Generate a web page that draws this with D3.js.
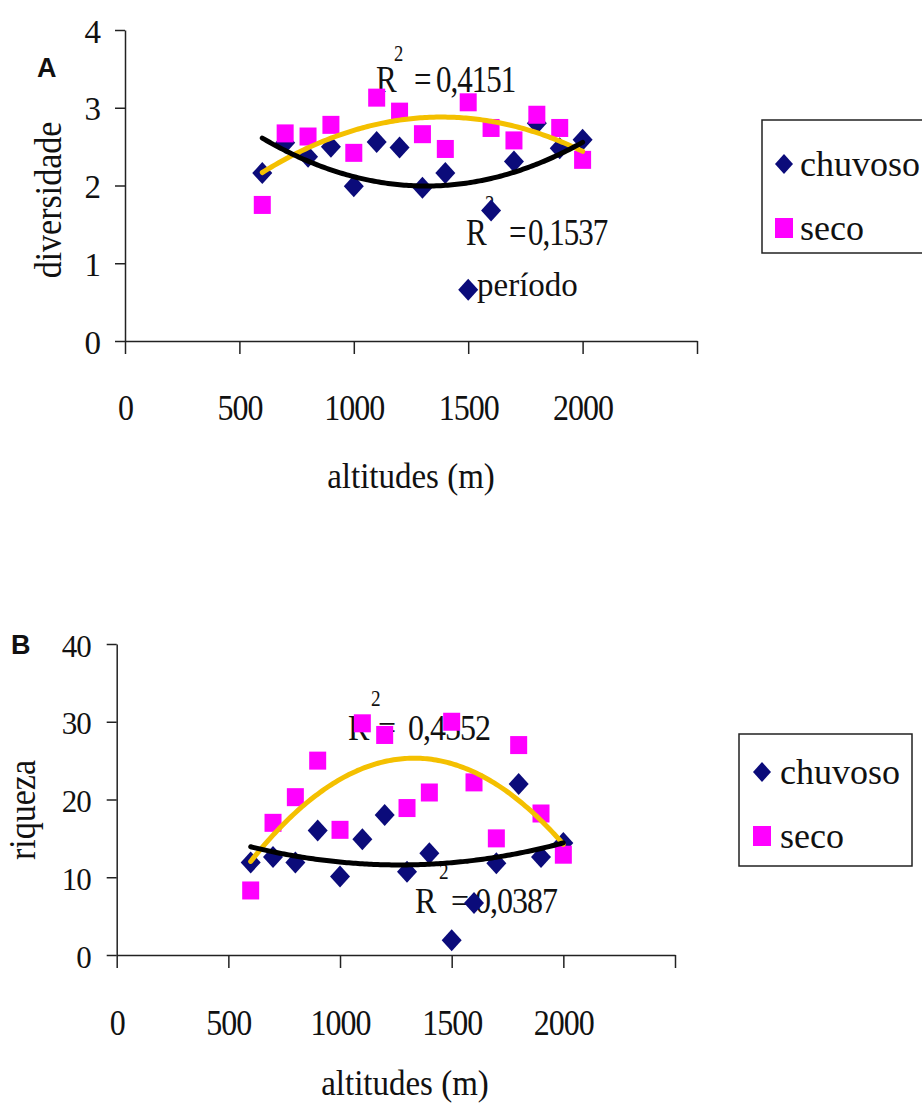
<!DOCTYPE html>
<html>
<head>
<meta charset="utf-8">
<script src="https://cdn.jsdelivr.net/npm/d3@7"></script>
<style>
body { margin: 0; background: #fff; }
svg text { font-family: "Liberation Serif", "Times New Roman", serif; fill: #111; }
.panel-letter { font-family: "Liberation Sans", Arial, sans-serif; font-weight: bold; }
</style>
</head>
<body>
<script>
//altitudes sampled (m)
var altitudes = [600, 700, 800, 900, 1000, 1100, 1200, 1300, 1400, 1500, 1600, 1700, 1800, 1900, 2000];

//A - diversidade
var divChuvoso = [2.16, 2.55, 2.37, 2.50, 1.99, 2.56, 2.49, 1.97, 2.16, 0.66, 1.68, 2.31, 2.80, 2.48, 2.59];
var divSeco    = [1.75, 2.67, 2.63, 2.78, 2.42, 3.13, 2.95, 2.66, 2.47, 3.07, 2.74, 2.58, 2.91, 2.74, 2.33];

//B - riqueza
var riqChuvoso = [11.9, 12.6, 11.9, 16.0, 10.1, 14.9, 18.0, 10.7, 13.1, 1.9, 6.7, 11.8, 22.0, 12.6, 14.4];
var riqSeco    = [8.3, 17.0, 20.3, 25.0, 16.1, 29.8, 28.3, 18.9, 20.9, 30.0, 22.2, 15.0, 27.0, 18.2, 12.9];

//ticks and labels
var xTicks = [0, 500, 1000, 1500, 2000, 2500];
var divTicks = [0, 1, 2, 3, 4];
var riqTicks = [0, 10, 20, 30, 40];
var seriesNames = ["chuvoso", "seco"];
var r2Div = ["0,4151", "0,1537"];   //seco, chuvoso
var r2Riq = ["0,4552", "0,0387"];

var width = 922, height = 1109;
var navy = "#0b0b7a", magenta = "#ff00ff", gold = "#f4c000";

var svg = d3.select("body").append("svg")
    .attr("width", width)
    .attr("height", height);

//least squares polynomial (order 2) trend, like the spreadsheet trendline
function quadFit(xs, ys){
    var m = d3.mean(xs), s = 1000;
    var S = [0, 0, 0, 0, 0], T = [0, 0, 0];
    xs.forEach(function(x, i){
        var t = (x - m) / s;
        for (var k = 0; k < 5; k++) S[k] += Math.pow(t, k);
        for (var k = 0; k < 3; k++) T[k] += Math.pow(t, k) * ys[i];
    });
    function det(a){
        return a[0][0]*(a[1][1]*a[2][2]-a[1][2]*a[2][1])
             - a[0][1]*(a[1][0]*a[2][2]-a[1][2]*a[2][0])
             + a[0][2]*(a[1][0]*a[2][1]-a[1][1]*a[2][0]);
    }
    var M = [[S[0], S[1], S[2]], [S[1], S[2], S[3]], [S[2], S[3], S[4]]];
    var D = det(M);
    var c = [0, 1, 2].map(function(j){
        var Mj = M.map(function(row, r){ return row.map(function(v, col){ return col === j ? T[r] : v; }); });
        return det(Mj) / D;
    });
    return function(x){ var t = (x - m) / s; return c[0] + c[1]*t + c[2]*t*t; };
}

function diamondPath(cx, cy, w, h){
    return "M" + cx + "," + (cy - h) + "L" + (cx + w) + "," + cy + "L" + cx + "," + (cy + h) + "L" + (cx - w) + "," + cy + "Z";
}

function drawPanel(cfg){
    var x = d3.scaleLinear().domain([0, 2500]).range([cfg.x0, cfg.x1]);
    var y = d3.scaleLinear().domain([0, cfg.yMax]).range([cfg.yBottom, cfg.yTop]);
    var g = svg.append("g");

    //x axis
    var xAxis = g.append("g")
        .attr("transform", "translate(0," + cfg.yBottom + ")")
        .call(d3.axisBottom(x).tickValues(xTicks).tickSize(13).tickSizeOuter(0)
            .tickFormat(function(d){ return d === 2500 ? "" : d; }));
    xAxis.selectAll("text")
        .attr("y", null).attr("dy", null)
        .attr("transform", "translate(0," + cfg.xLabelDy + ") scale(1,1.15)")
        .style("font-size", "32px")
        .style("letter-spacing", "-1px");

    //y axis
    var yAxis = g.append("g")
        .attr("transform", "translate(" + cfg.x0 + ",0)")
        .call(d3.axisLeft(y).tickValues(cfg.yTicks).tickSize(10).tickSizeOuter(0)
            .tickFormat(d3.format("d")));
    yAxis.selectAll("text")
        .attr("x", -cfg.yLabelDx).attr("dy", null).attr("y", 12)
        .style("font-size", cfg.yTickFont + "px")
        .style("letter-spacing", "-1px");

    g.selectAll(".domain, .tick line").attr("stroke", "#222").attr("stroke-width", 1.5);
    g.selectAll(".tick text").attr("fill", "#111");

    //axis titles
    g.append("text")
        .attr("transform", "translate(" + cfg.xTitle[0] + "," + cfg.xTitle[1] + ") scale(1,1.08)")
        .attr("text-anchor", "middle")
        .style("font-size", "33px")
        .text("altitudes (m)");
    g.append("text")
        .attr("transform", "translate(" + cfg.yTitle[0] + "," + cfg.yTitle[1] + ") rotate(-90) scale(1,1.1)")
        .attr("text-anchor", "middle")
        .style("font-size", "34px")
        .text(cfg.yTitleText);

    //panel letter
    g.append("text")
        .attr("class", "panel-letter")
        .attr("x", cfg.letter[0]).attr("y", cfg.letter[1])
        .style("font-size", "27px")
        .text(cfg.letterText);

    //R squared labels
    cfg.r2.forEach(function(r){
        var t = g.append("g").attr("transform", "translate(" + r.x + "," + r.y + ") scale(1," + r.sy + ")");
        t.append("text").attr("x", 0).attr("y", 0).style("font-size", r.fs + "px").text("R");
        t.append("text").attr("x", r.sup[0]).attr("y", r.sup[1]).style("font-size", (r.fs * 0.6) + "px").text("2");
        t.append("text").attr("x", r.eq).attr("y", 0).style("font-size", r.fs + "px").text("=");
        t.append("text").attr("x", r.num).attr("y", 0).style("font-size", r.fs + "px")
            .style("letter-spacing", "-1px").text(r.text);
    });
    if (cfg.extra) {
        g.append("text")
            .attr("x", cfg.extra.x).attr("y", cfg.extra.y)
            .style("font-size", "33px")
            .text(cfg.extra.text);
    }

    //markers: chuvoso diamonds, then seco squares
    g.selectAll(".chuvoso")
        .data(cfg.chuvoso)
        .enter()
        .append("path")
        .attr("class", "chuvoso")
        .attr("d", function(d, i){ return diamondPath(x(altitudes[i]), y(d), 10, 11); })
        .attr("fill", navy);
    g.selectAll(".seco")
        .data(cfg.seco)
        .enter()
        .append("rect")
        .attr("class", "seco")
        .attr("x", function(d, i){ return x(altitudes[i]) - 8.5; })
        .attr("y", function(d){ return y(d) - 9; })
        .attr("width", 17).attr("height", 18)
        .attr("fill", magenta);

    //trend lines
    var xs = d3.range(altitudes[0], altitudes[altitudes.length - 1] + 1, 10);
    var fitSeco = quadFit(altitudes, cfg.seco),
        fitChuv = quadFit(altitudes, cfg.chuvoso);
    var line = d3.line()
        .x(function(d){ return x(d[0]); })
        .y(function(d){ return y(d[1]); });
    g.append("path")
        .datum(xs.map(function(a){ return [a, fitSeco(a)]; }))
        .attr("d", line)
        .attr("fill", "none").attr("stroke", gold).attr("stroke-width", 5).attr("stroke-linecap", "round");
    g.append("path")
        .datum(xs.map(function(a){ return [a, fitChuv(a)]; }))
        .attr("d", line)
        .attr("fill", "none").attr("stroke", "#000").attr("stroke-width", 5).attr("stroke-linecap", "round");

    //legend
    var L = cfg.legend;
    g.append("rect")
        .attr("x", L.x).attr("y", L.y).attr("width", L.w).attr("height", L.h)
        .attr("fill", "#fff").attr("stroke", "#222").attr("stroke-width", 1.5);
    g.append("path")
        .attr("d", diamondPath(L.mx, L.row1, 9, 10))
        .attr("fill", navy);
    g.append("rect")
        .attr("x", L.mx - 9).attr("y", L.row2 - 10).attr("width", 18).attr("height", 20)
        .attr("fill", magenta);
    g.selectAll(".legtext")
        .data(seriesNames)
        .enter()
        .append("text")
        .attr("class", "legtext")
        .attr("x", L.tx)
        .attr("y", function(d, i){ return (i === 0 ? L.row1 : L.row2) + 12; })
        .style("font-size", "36px")
        .text(function(d){ return d; });
}

//panel A
drawPanel({
    x0: 125, x1: 697, yBottom: 341, yTop: 30, yMax: 4, yTicks: divTicks,
    yLabelDx: 25, yTickFont: 33, xLabelDy: 79,
    xTitle: [411, 488], yTitle: [61, 200], yTitleText: "diversidade",
    letter: [37, 77], letterText: "A",
    chuvoso: divChuvoso, seco: divSeco,
    r2: [
        {x: 376, y: 92, sy: 1.25, fs: 31, sup: [18, -25], eq: 38, num: 60, text: r2Div[0]},
        {x: 466, y: 245, sy: 1.25, fs: 31, sup: [19, -27], eq: 43, num: 62, text: r2Div[1]}
    ],
    extra: {x: 477, y: 296, text: "período"},
    legend: {x: 762, y: 120, w: 200, h: 133, mx: 784, row1: 164, row2: 228, tx: 800}
});

//panel B
drawPanel({
    x0: 116.7, x1: 675, yBottom: 955, yTop: 644, yMax: 40, yTicks: riqTicks,
    yLabelDx: 26, yTickFont: 31, xLabelDy: 80,
    xTitle: [405, 1095], yTitle: [35, 810], yTitleText: "riqueza",
    letter: [11, 654], letterText: "B",
    chuvoso: riqChuvoso, seco: riqSeco,
    r2: [
        {x: 348, y: 740, sy: 1.15, fs: 32, sup: [23, -30], eq: 30, num: 60, text: r2Riq[0]},
        {x: 415, y: 913, sy: 1.15, fs: 32, sup: [24, -30], eq: 36, num: 60, text: r2Riq[1]}
    ],
    legend: {x: 739, y: 734, w: 173, h: 132, mx: 762, row1: 772, row2: 836, tx: 780}
});
</script>
</body>
</html>
